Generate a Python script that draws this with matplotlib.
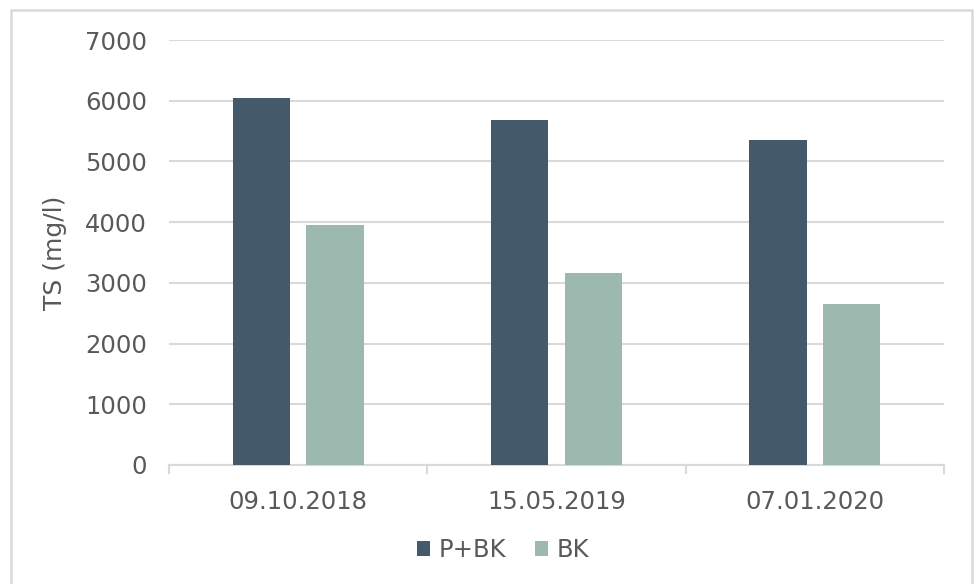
import matplotlib
matplotlib.use("Agg")
import matplotlib.pyplot as plt
from matplotlib.lines import Line2D
import numpy as np

dates = ["09.10.2018", "15.05.2019", "07.01.2020"]
series_names = ["P+BK", "BK"]
p_bk = [6040, 5680, 5350]
bk = [3945, 3160, 2650]
y_ticks = [0, 1000, 2000, 3000, 4000, 5000, 6000, 7000]

dark = "#44596A"
light = "#9DB8AE"
text_c = "#595959"
grid_c = "#D9D9D9"

W, H = 976, 584
fig = plt.figure(figsize=(W / 100, H / 100), dpi=100)
fig.patch.set_facecolor("white")

# outer chart frame (open at the bottom edge)
fx = [11 / W, 11 / W, 972 / W, 972 / W]
fy = [0, 1 - 10 / H, 1 - 10 / H, 0]
fig.lines.append(Line2D(fx, fy, transform=fig.transFigure, color="#D9D9D9", linewidth=1.8))

ax = fig.add_axes([169 / W, 1 - 465 / H, (944 - 169) / W, (465 - 40) / H])

x = np.arange(len(dates))
bw = 0.222
gap = 0.062
ax.bar(x - (bw + gap) / 2, p_bk, width=bw, color=dark, label=series_names[0], zorder=3)
ax.bar(x + (bw + gap) / 2, bk, width=bw, color=light, label=series_names[1], zorder=3)

ax.set_xlim(-0.5, len(dates) - 0.5)
ax.set_ylim(0, 7000)
ax.set_yticks(y_ticks)
ax.set_yticklabels([str(v) for v in y_ticks])
ax.set_xticks(x)
ax.set_xticklabels(dates)

ax.yaxis.grid(True, color=grid_c, linewidth=1.5, zorder=0)
ax.set_axisbelow(True)
for s in ["top", "right", "left"]:
    ax.spines[s].set_visible(False)
ax.spines["bottom"].set_color(grid_c)
ax.spines["bottom"].set_linewidth(1.5)

ax.tick_params(axis="y", length=0, pad=16, labelsize=17.5, labelcolor=text_c)
ax.tick_params(axis="x", length=0, pad=18, labelsize=17.5, labelcolor=text_c)

# category boundary ticks
for b in np.arange(-0.5, len(dates), 1.0):
    ax.plot([b, b], [0, -130], color=grid_c, linewidth=1.5, clip_on=False, zorder=2)

ax.set_ylabel("TS (mg/l)", fontsize=18, color=text_c, labelpad=13)

leg = fig.legend(loc="center", bbox_to_anchor=(503 / W, 1 - 550 / H), ncol=2, frameon=False,
                 fontsize=17.5, handlelength=0.55, handleheight=0.55, handletextpad=0.35,
                 columnspacing=1.2, labelcolor=text_c)

fig.savefig("out.png", dpi=100, facecolor="white")
